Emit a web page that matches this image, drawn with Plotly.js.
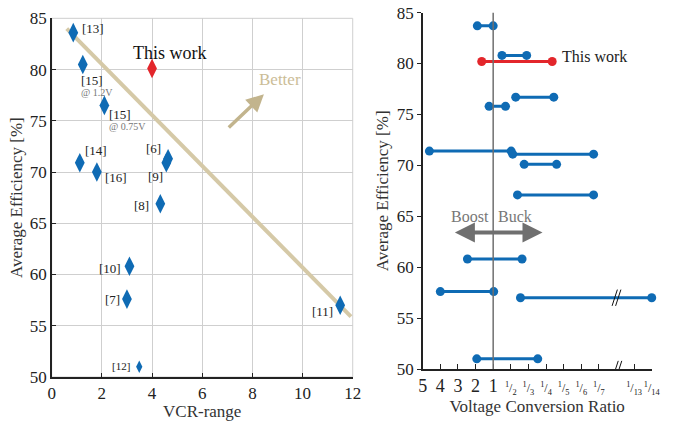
<!DOCTYPE html>
<html><head><meta charset="utf-8">
<script src="https://cdn.plot.ly/plotly-3.0.1.min.js"></script>
<style>html,body{margin:0;padding:0;background:#fff}#c{width:682px;height:421px}</style>
</head><body><div id="c"></div><script>
// ---- Left chart data ----
const refLabels = ["[13]","[15]","This work","[15]","[14]","[16]","[6]","[9]","[8]","[10]","[7]","[12]","[11]"];
const vcrRange  = [0.86, 1.24, 4.0, 2.1, 1.12, 1.8, 4.64, 4.57, 4.33, 3.1, 3.0, 3.49, 11.5];
const avgEff    = [83.6, 80.5, 80.1, 76.5, 70.9, 70.0, 71.3, 70.9, 66.9, 60.8, 57.6, 51.0, 57.0];
const trendX = [0.6, 11.93];
const trendY = [84.0, 55.9];

// ---- Right chart data ----
const frac = d => '<span style="font-size:12px"><sup>1</sup>/<sub>' + d + '</sub></span>';
const vcrTickLabels = ["5","4","3","2","1", frac(2), frac(3), frac(4), frac(5), frac(6), frac(7), frac(13), frac(14)];
const vcrTickPos = [0,1,2,3,4,5,6,7,8,9,10,12,13];
const rangeEff  = [83.7, 80.8, 76.7, 75.8, 71.4, 71.1, 70.1, 67.1, 60.8, 57.6, 57.0, 51.0];
const rangeFrom = [3.1, 4.5, 5.28, 3.77, 0.38, 5.11, 5.76, 5.38, 2.54, 1.0, 5.55, 3.07];
const rangeTo   = [4.0, 5.9, 7.44, 4.7, 5.02, 9.7, 7.6, 9.7, 5.64, 4.03, 13.0, 6.53];
const thisEff = 80.2, thisFrom = 3.35, thisTo = 7.35;

const BLUE = "#0f6bb4", RED = "#e3262b", TAN = "#d5c9a7", TANTXT = "#cbbd97", GRAY = "#6f6f6f";
const FONT = "Liberation Serif";

const isThis = refLabels.map(l => l === "This work");
const blueIdx = refLabels.map((l,i)=>i).filter(i => !isThis[i]);

const segX = [], segY = [];
rangeFrom.forEach((f,i) => { segX.push(f, rangeTo[i], null); segY.push(rangeEff[i], rangeEff[i], null); });

const traces = [
  {x: trendX, y: trendY, mode: "lines", line: {color: TAN, width: 4}, xaxis: "x", yaxis: "y", hoverinfo: "skip"},
  {x: blueIdx.map(i=>vcrRange[i]), y: blueIdx.map(i=>avgEff[i]), mode: "markers",
   marker: {symbol: "diamond-tall", color: BLUE, opacity: 1, line: {width: 0}, size: blueIdx.map(i => refLabels[i]==="[12]" ? 9 : 14)},
   xaxis: "x", yaxis: "y", cliponaxis: false},
  {x: vcrRange.filter((v,i)=>isThis[i]), y: avgEff.filter((v,i)=>isThis[i]), mode: "markers",
   marker: {symbol: "diamond-tall", color: RED, opacity: 1, line: {width: 0}, size: 14}, xaxis: "x", yaxis: "y", cliponaxis: false},
  {x: segX, y: segY, mode: "lines+markers", line: {color: BLUE, width: 3},
   marker: {color: BLUE, size: 9}, xaxis: "x2", yaxis: "y2", cliponaxis: false},
  {x: [thisFrom, thisTo], y: [thisEff, thisEff], mode: "lines+markers", line: {color: RED, width: 3},
   marker: {color: RED, size: 9}, xaxis: "x2", yaxis: "y2", cliponaxis: false}
];

const labelPos = {
  "[13]": [1.13, 84.0, "left"], "[14]": [1.25, 72.1, "left"], "[16]": [2.05, 69.5, "left"],
  "[6]": [4.45, 72.3, "right"], "[9]": [4.5, 69.6, "right"], "[8]": [3.95, 66.7, "right"],
  "[10]": [2.85, 60.6, "right"], "[7]": [2.8, 57.6, "right"], "[12]": [3.2, 51.1, "right"],
  "[11]": [11.3, 56.4, "right"]
};
const ann = [];
refLabels.forEach((l,i) => {
  if (labelPos[l]) {
    const p = labelPos[l];
    ann.push({x: p[0], y: p[1], xref: "x", yref: "y", text: l, showarrow: false, xanchor: p[2],
      font: {family: FONT, size: l==="[12]" ? 11 : 13, color: "#222"}});
  }
});
ann.push({x: 1.1, y: 78.9, xref:"x", yref:"y", text:"[15]", showarrow:false, xanchor:"left", font:{family:FONT,size:13,color:"#222"}});
ann.push({x: 1.1, y: 77.8, xref:"x", yref:"y", text:"@ 1.2V", showarrow:false, xanchor:"left", font:{family:FONT,size:10,color:"#777"}});
ann.push({x: 2.2, y: 75.6, xref:"x", yref:"y", text:"[15]", showarrow:false, xanchor:"left", font:{family:FONT,size:13,color:"#222"}});
ann.push({x: 2.2, y: 74.4, xref:"x", yref:"y", text:"@ 0.75V", showarrow:false, xanchor:"left", font:{family:FONT,size:10,color:"#777"}});
ann.push({x: 4.73, y: 81.6, xref:"x", yref:"y", text:"This work", showarrow:false, font:{family:FONT,size:18,color:"#111"}});
ann.push({x: 9.1, y: 79.0, xref:"x", yref:"y", text:"Better", showarrow:false, font:{family:FONT,size:17,color:TANTXT}});
ann.push({x: 8.46, y: 77.6, ax: 7.0, ay: 74.2, xref:"x", yref:"y", axref:"x", ayref:"y", text:"", showarrow:true,
  arrowhead: 2, arrowsize: 1, arrowwidth: 3.5, arrowcolor: "#c2b48d"});
// right chart
ann.push({x: 7.8, y: 80.7, xref:"x2", yref:"y2", text:"This work", showarrow:false, xanchor:"left", font:{family:FONT,size:16,color:"#222"}});
ann.push({x: 6.8, y: 63.4, ax: 1.74, ay: 63.4, xref:"x2", yref:"y2", axref:"x2", ayref:"y2", text:"", showarrow:true,
  arrowhead: 2, arrowside: "end+start", arrowsize: 1, arrowwidth: 4, arrowcolor: GRAY});
ann.push({x: 3.85, y: 65.0, xref:"x2", yref:"y2", text:"Boost", showarrow:false, xanchor:"right", font:{family:FONT,size:16,color:"#777"}});
ann.push({x: 4.15, y: 65.0, xref:"x2", yref:"y2", text:"Buck", showarrow:false, xanchor:"left", font:{family:FONT,size:16,color:"#777"}});

const shapes = [
  {type:"line", xref:"x2", yref:"y2 domain", x0:4, x1:4, y0:0, y1:1, line:{color:GRAY, width:1.5}},
  {type:"line", xref:"x2", yref:"y2", x0:10.75, x1:11.05, y0:56.2, y1:57.8, line:{color:"#111", width:1}},
  {type:"line", xref:"x2", yref:"y2", x0:10.95, x1:11.25, y0:56.2, y1:57.8, line:{color:"#111", width:1}},
  {type:"line", xref:"x2", yref:"y2", x0:10.8, x1:11.1, y0:49.2, y1:50.8, line:{color:"#111", width:1}},
  {type:"line", xref:"x2", yref:"y2", x0:11.0, x1:11.3, y0:49.2, y1:50.8, line:{color:"#111", width:1}},
  {type:"rect", xref:"x domain", yref:"y domain", x0:0, x1:1, y0:0, y1:1, line:{color:"#cfcfcf", width:1}, layer:"below"}
];

const tickFont = {family: FONT, size: 17, color: "#222"};
const titleFont = {family: FONT, size: 17, color: "#333"};
const layout = {
  width: 682, height: 421, margin: {l:0, r:0, t:0, b:0},
  paper_bgcolor: "#fff", plot_bgcolor: "#fff", showlegend: false,
  font: {family: FONT},
  xaxis: {domain: [0.0758, 0.5172], range: [0, 12], tickvals: [0,2,4,6,8,10,12], showgrid: true, gridcolor: "#cfcfcf",
    zeroline: false, showline: true, linecolor: "#222", linewidth: 1.5, ticks: "inside", ticklen: 4, tickcolor: "#222",
    tickfont: tickFont, title: {text: "VCR-range", font: titleFont, standoff: 1}, anchor: "y"},
  yaxis: {domain: [0.1045, 0.9565], range: [50, 85], tickvals: [50,55,60,65,70,75,80,85], showgrid: true, gridcolor: "#cfcfcf",
    zeroline: false, showline: true, linecolor: "#222", linewidth: 1.5, ticks: "inside", ticklen: 4, tickcolor: "#222",
    tickfont: tickFont, title: {text: "Average Efficiency [%]", font: titleFont, standoff: 3}, anchor: "x"},
  xaxis2: {domain: [0.6198, 0.9556], range: [0, 13], tickvals: vcrTickPos, ticktext: vcrTickLabels, showgrid: false,
    zeroline: false, showline: true, linecolor: "#222", linewidth: 1.5, ticks: "inside", ticklen: 5, tickcolor: "#222",
    tickfont: {family: FONT, size: 18, color: "#222"}, tickangle: 0,
    title: {text: "Voltage Conversion Ratio", font: titleFont, standoff: 0}, anchor: "y2"},
  yaxis2: {domain: [0.1235, 0.970], range: [50, 85], tickvals: [50,55,60,65,70,75,80,85], showgrid: false,
    zeroline: false, showline: true, linecolor: "#222", linewidth: 1.5, ticks: "outside", ticklen: 4, tickcolor: "#222",
    tickfont: tickFont, title: {text: "Average Efficiency [%]", font: titleFont, standoff: 4}, anchor: "x2"},
  annotations: ann, shapes: shapes
};
Plotly.newPlot("c", traces, layout, {staticPlot: true, displayModeBar: false});
</script></body></html>
